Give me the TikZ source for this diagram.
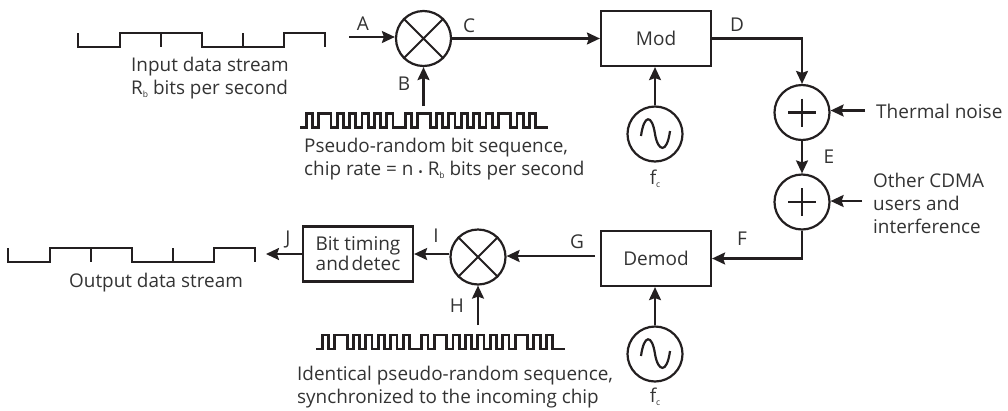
\documentclass[tikz,border=0pt]{standalone}
\usepackage{fontspec}
\setmainfont{Open Sans}
\usetikzlibrary{arrows.meta,calc}
\definecolor{ink}{HTML}{231F20}
\definecolor{txt}{HTML}{333333}
\newcommand{\sbb}[1]{\raisebox{-2.5pt}{\fontsize{8.5}{8.5}\selectfont #1}}
\tikzset{
  line/.style={draw=ink,line width=2pt},
  conn/.style={draw=ink,line width=2.2pt,-{Stealth[length=13pt,width=12pt,inset=2pt]}},
  mixer/.style={circle,line,line width=2.2pt,minimum size=55pt,inner sep=0pt},
  blockbox/.style={rectangle,line,line width=2.2pt,minimum width=110pt,minimum height=55pt,inner sep=0pt,text=txt,font=\fontsize{19}{20}\selectfont,align=center},
  wave/.style={draw=ink,line width=2.8pt,line join=miter,line cap=butt},
  lab/.style={text=txt,inner sep=0pt,font=\fontsize{19}{20}\selectfont},
  para/.style={text=txt,inner sep=0pt,anchor=north west,align=left,font=\fontsize{18.9}{23}\selectfont},
}
\newcommand{\sinewave}[1]{\draw[line,line width=2.2pt] ($(#1)+(-14,2)$) .. controls ($(#1)+(-11,-20)$) and ($(#1)+(-3,-20)$) .. ($(#1)+(0,0)$) .. controls ($(#1)+(3,18)$) and ($(#1)+(12,20)$) .. ($(#1)+(15,-3)$);}
\newcommand{\plusmark}[1]{\draw[line,line width=2.8pt] ($(#1)+(-14,0)$) -- ($(#1)+(14,0)$) ($(#1)+(0,-14)$) -- ($(#1)+(0,14)$);}
\newcommand{\bitwave}[2]{%
  \begin{scope}[shift={(#1,#2)}]
    \draw[wave] (0,0) -- (0,14) -- (42,14) -- (42,0) -- (124,0) -- (124,14) -- (206,14) -- (206,0) -- (247,0) -- (247,14);
    \draw[wave] (83,0) -- (83,14) (165,0) -- (165,14);
  \end{scope}}
\newcommand{\chipwave}[3]{%
  \begin{scope}[shift={(#1,#2)},x=#3pt,y=-14pt]
    \draw[wave] (0,1) foreach \b [count=\i] in {0,1,0,1,1,0,1,0,1,0,1,0,1,0,1,0,0,1,0,1,1,0,1,0,1,0,1,0,1,0,1,0,1,1,0,1,0,1,0,0} { -- (\i-1,1-\b) -- (\i,1-\b) } -- (40,1);
  \end{scope}}
\begin{document}
\begin{tikzpicture}[x=1pt,y=-1pt]
\useasboundingbox (0,0) rectangle (1008,410);
% nodes
\node[mixer] (m1) at (423.5,38.5) {};
\node[blockbox] (mod) at (656,38.5) {Mod};
\node[mixer] (o1) at (655,134) {};
\node[mixer] (p1) at (802,112.5) {};
\node[mixer] (p2) at (802,202) {};
\node[blockbox] (dem) at (656,258.5) {Demod};
\node[mixer] (o2) at (655,354) {};
\node[mixer] (m2) at (478,257) {};
\node[blockbox] (bit) at (358,254) {Bit timing\\{\spaceskip=2pt and detec}};
\draw[line] (m1.45) -- (m1.225) (m1.135) -- (m1.315);
\draw[line] (m2.45) -- (m2.225) (m2.135) -- (m2.315);
\plusmark{p1}\plusmark{p2}
\sinewave{o1}\sinewave{o2}
% waveforms
\bitwave{78}{33}
\bitwave{8}{248}
\chipwave{300}{113.5}{6.2}
\chipwave{316}{335}{6.225}
% free ends
\coordinate (ain) at (349,37);
\coordinate (bin) at (423.5,106);
\coordinate (hin) at (478,325);
\coordinate (tn) at (865,110.5);
\coordinate (oc) at (862,201);
\coordinate (jout) at (266,254);
% connectors
\draw[conn] (ain) -- (m1.west |- ain);
\draw[conn] (bin) -- (m1.south);
\draw[conn] (m1.east) -- (mod.west);
\draw[conn] (o1.north) -- (mod.south -| o1.north);
\draw[conn] (mod.east) -| (p1.north);
\draw[conn] (tn) -- (p1.east |- tn);
\draw[conn] (p1.south) -- (p2.north);
\draw[conn] (oc) -- (p2.east |- oc);
\draw[conn] (p2.south) |- (dem.east);
\draw[conn] (o2.north) -- (dem.south -| o2.north);
\coordinate (gout) at (595,256);
\draw[conn] (gout) -- (m2.east |- gout);
\draw[conn] (hin) -- (m2.south);
\draw[conn] (m2.west |- jout) -- (bit.east |- jout);
\draw[conn] (bit.west |- jout) -- (jout);
% labels
\node[lab] (la) at (363,24) {A};
\node[lab] (lb) at (404,84) {B};
\node[lab] (lc) at (469,26) {C};
\node[lab] (ld) at (737,25) {D};
\node[lab] (le) at (829,157) {E};
\node[lab] (lf) at (742,239) {F};
\node[lab] (lg) at (577,242) {G};
\node[lab] (lh) at (457,306) {H};
\node[lab] (li) at (436,236) {I};
\node[lab] (lj) at (288,239) {J};
\node[lab] (fc1) at (655,179) {f\sbb{c}};
\node[lab] (fc2) at (655,397) {f\sbb{c}};
\node[lab,anchor=base west] (th) at (876,118) {Thermal noise};
\node[para] (oth) at (873,173) {Other CDMA\\users and\\interference};
\node[para] (inp) at (131,57) {Input data stream\\R\sbb{b} bits per second};
\node[para] (prs) at (304,138) {Pseudo-random bit sequence,\\chip rate = n \raisebox{-1pt}{\fontsize{12}{12}\selectfont •} R\sbb{b} bits per second};
\node[para] (out) at (69,273) {Output data stream};
\node[para] (idn) at (297,366) {Identical pseudo-random sequence,\\synchronized to the incoming chip};
\end{tikzpicture}
\end{document}
